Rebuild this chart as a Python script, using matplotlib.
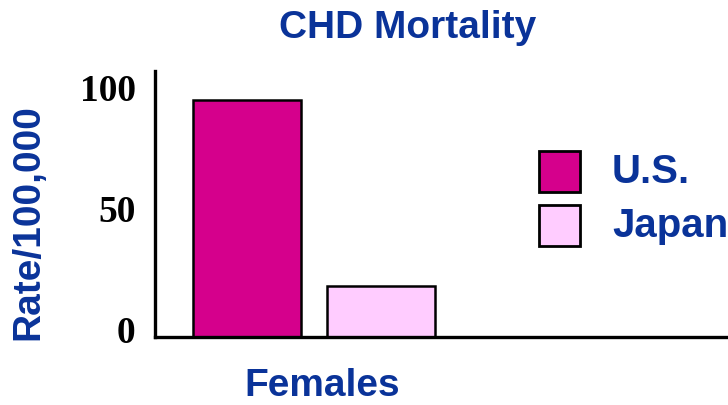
import matplotlib.pyplot as plt
from matplotlib.patches import Rectangle
from matplotlib.transforms import ScaledTranslation

groups = ["U.S.", "Japan"]
rates = [98, 21]
bar_colors = ["#d5008c", "#ffccff"]
yticks = [0, 50, 100]

blue = "#0a3399"
sans = "Liberation Sans"
serif = "Liberation Serif"

fig = plt.figure(figsize=(7.28, 4.06), dpi=100)
ax = fig.add_axes([155 / 728, 68 / 406, 1 - 155 / 728, 266 / 406])

xs = range(len(rates))
ax.bar(xs, rates, width=0.81, color=bar_colors, edgecolor="black",
       linewidth=1.8, zorder=3)

ax.set_xlim(-0.69, 3.6)
ax.set_ylim(0, 110)
ax.set_xticks([])
ax.set_yticks(yticks)
ax.set_yticklabels([str(t) for t in yticks], fontfamily=serif,
                   fontweight="bold", fontsize=27)
ax.tick_params(axis="y", length=0, pad=14)
# nudge the tick labels up a bit
for lbl in ax.get_yticklabels():
    lbl.set_transform(lbl.get_transform() + ScaledTranslation(0, 6 / 72, fig.dpi_scale_trans))

for side in ["top", "right"]:
    ax.spines[side].set_visible(False)
ax.spines["left"].set_linewidth(2.4)
ax.spines["bottom"].set_linewidth(2.4)
ax.spines["bottom"].set_zorder(4)

fig.text(408 / 728, 1 - 28 / 406, "CHD Mortality", ha="center", va="center",
         color=blue, fontfamily=sans, fontweight="bold", fontsize=28)
fig.text(322 / 728, 1 - 386 / 406, "Females", ha="center", va="center",
         color=blue, fontfamily=sans, fontweight="bold", fontsize=28)
fig.text(28 / 728, 1 - 222 / 406, "Rate/100,000", ha="center", va="center",
         rotation=90, color=blue, fontfamily=sans, fontweight="bold", fontsize=28)

# legend boxes and labels
box_tops = [152, 206]
for name, col, top in zip(groups, bar_colors, box_tops):
    fig.add_artist(Rectangle((539 / 728, 1 - (top + 41) / 406), 41 / 728, 41 / 406,
                             transform=fig.transFigure, facecolor=col,
                             edgecolor="black", linewidth=2))
    fig.text(612 / 728, 1 - (top + 31) / 406, name, ha="left", va="baseline",
             color=blue, fontfamily=sans, fontweight="bold", fontsize=29)

fig.savefig("out.png", dpi=100)
